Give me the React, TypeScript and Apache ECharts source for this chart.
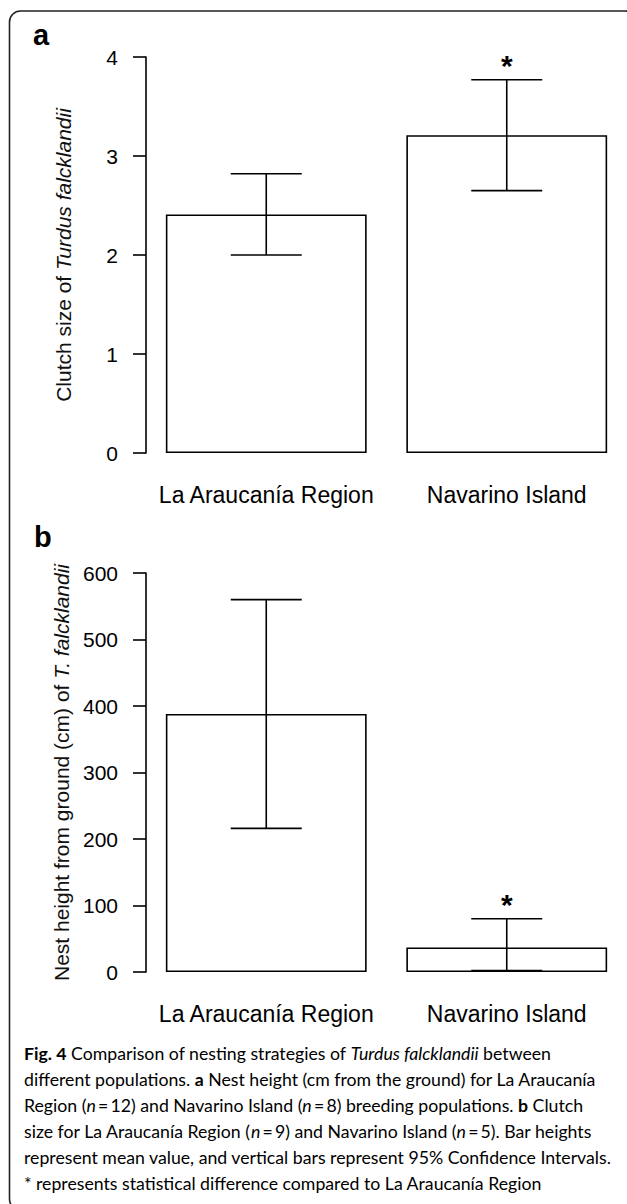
import React, { useEffect, useRef } from "react";
import * as echarts from "echarts";

const categories = ["La Araucanía Region", "Navarino Island"];

// Panel a: clutch size
const clutchMean = [2.41, 3.21];
const clutchLow = [2.0, 2.65];
const clutchHigh = [2.82, 3.77];
const clutchAxis = { min: 0, max: 4, interval: 1 };

// Panel b: nest height (cm)
const nestMean = [388, 37];
const nestLow = [216, 2];
const nestHigh = [560, 80];
const nestAxis = { min: 0, max: 600, interval: 100 };

const significant = [0, 1];

const captionLines = [
  "{b|Fig. 4} Comparison of nesting strategies of {i|Turdus falcklandii} between",
  "different populations. {b|a} Nest height (cm from the ground) for La Araucanía",
  "Region ({i|n}\u2009=\u200912) and Navarino Island ({i|n}\u2009=\u20098) breeding populations. {b|b} Clutch",
  "size for La Araucanía Region ({i|n}\u2009=\u20099) and Navarino Island ({i|n}\u2009=\u20095). Bar heights",
  "represent mean value, and vertical bars represent 95% Confidence Intervals.",
  "* represents statistical difference compared to La Araucanía Region",
];

const FONT = "'Liberation Sans', Arial, Helvetica, sans-serif";
const CAP_FONT = "Lato, 'Open Sans', sans-serif";

function errorData(low: number[], high: number[]) {
  return categories.map((_, i) => [i, low[i], high[i], significant[i]]);
}

function renderError(params: any, api: any) {
  const x = api.value(0);
  const lo = api.value(1);
  const hi = api.value(2);
  const sig = api.value(3);
  const pLo = api.coord([x, lo]);
  const pHi = api.coord([x, hi]);
  const half = api.size([1, 0])[0] * 0.1476;
  const ls = { stroke: "#000", lineWidth: 1.6 };
  const children: any[] = [
    { type: "line", shape: { x1: pLo[0], y1: pLo[1], x2: pHi[0], y2: pHi[1] }, style: ls },
    { type: "line", shape: { x1: pLo[0] - half, y1: pLo[1], x2: pLo[0] + half, y2: pLo[1] }, style: ls },
    { type: "line", shape: { x1: pHi[0] - half, y1: pHi[1], x2: pHi[0] + half, y2: pHi[1] }, style: ls },
  ];
  if (sig) {
    children.push({
      type: "text",
      x: pHi[0],
      y: pHi[1] - 14,
      style: {
        text: "*",
        fontSize: 30,
        fontWeight: "bold",
        fontFamily: FONT,
        align: "center",
        verticalAlign: "middle",
        fill: "#000",
      },
    });
  }
  return { type: "group", children };
}

function yAxisCfg(gridIndex: number, ax: any, name: string) {
  return {
    type: "value",
    gridIndex,
    min: ax.min,
    max: ax.max,
    interval: ax.interval,
    name,
    nameLocation: "middle",
    nameGap: 72,
    nameTextStyle: {
      fontSize: 21,
      fontFamily: FONT,
      color: "#111",
      rich: { i: { fontSize: 21, fontFamily: FONT, fontStyle: "italic", color: "#111" } },
    },
    axisLine: { show: true, lineStyle: { color: "#000", width: 1.6 } },
    axisTick: { show: true, inside: false, length: 13, lineStyle: { color: "#000", width: 1.6 } },
    axisLabel: { fontSize: 21, fontFamily: FONT, color: "#000", margin: 28 },
    splitLine: { show: false },
  };
}

function xAxisCfg(gridIndex: number) {
  return {
    type: "category",
    gridIndex,
    data: categories,
    axisLine: { show: false },
    axisTick: { show: false },
    axisLabel: { fontSize: 23, fontFamily: FONT, color: "#000", margin: 30, interval: 0, hideOverlap: false },
  };
}

function barSeries(idx: number, data: number[]) {
  return {
    type: "bar",
    xAxisIndex: idx,
    yAxisIndex: idx,
    data,
    barWidth: "83.5%",
    itemStyle: { color: "#fff", borderColor: "#000", borderWidth: 1.6 },
    z: 2,
  };
}

export default function App() {
  const ref = useRef<HTMLDivElement>(null);
  useEffect(() => {
    if (!ref.current) return;
    const chart = echarts.init(ref.current, undefined, { renderer: "svg" });

    // Size the caption font so that the longest line spans the caption width
    let capSize = 18;
    try {
      const ctx = document.createElement("canvas").getContext("2d");
      if (ctx) {
        ctx.font = `100px ${CAP_FONT}`;
        const w = ctx.measureText(captionLines[4]).width;
        if (w > 0) capSize = Math.max(14, Math.min(22, (100 * 588) / w));
      }
    } catch (e) {}

    const capRich = {
      b: { fontWeight: "bold", fontSize: capSize, fontFamily: CAP_FONT, fill: "#000" },
      i: { fontStyle: "italic", fontSize: capSize, fontFamily: CAP_FONT, fill: "#000" },
    };

    const captionGraphics = captionLines.map((t, k) => ({
      type: "text",
      x: 24,
      y: 1053 + k * 26,
      style: {
        text: t,
        fontSize: capSize,
        fontFamily: CAP_FONT,
        fill: "#000",
        verticalAlign: "middle",
        align: "left",
        rich: capRich,
      },
    }));

    chart.setOption({
      animation: false,
      backgroundColor: "#fff",
      grid: [
        { left: 146, right: 0, top: 57, height: 396 },
        { left: 146, right: 0, top: 573, height: 399 },
      ],
      xAxis: [xAxisCfg(0), xAxisCfg(1)],
      yAxis: [
        yAxisCfg(0, clutchAxis, "Clutch size of {i|Turdus falcklandii}"),
        yAxisCfg(1, nestAxis, "Nest height from ground (cm) of {i|T. falcklandii}"),
      ],
      series: [
        barSeries(0, clutchMean),
        {
          type: "custom",
          xAxisIndex: 0,
          yAxisIndex: 0,
          data: errorData(clutchLow, clutchHigh),
          renderItem: renderError,
          z: 3,
        },
        barSeries(1, nestMean),
        {
          type: "custom",
          xAxisIndex: 1,
          yAxisIndex: 1,
          data: errorData(nestLow, nestHigh),
          renderItem: renderError,
          z: 3,
        },
      ],
      graphic: [
        {
          type: "rect",
          shape: { x: 9.5, y: 11, width: 626.5, height: 1199, r: 11 },
          style: { fill: "none", stroke: "#222", lineWidth: 1.6 },
          z: 10,
        },
        {
          type: "text",
          x: 33,
          y: 35,
          style: { text: "a", fontSize: 29, fontWeight: "bold", fontFamily: FONT, fill: "#000", verticalAlign: "middle" },
        },
        {
          type: "text",
          x: 34,
          y: 537,
          style: { text: "b", fontSize: 29, fontWeight: "bold", fontFamily: FONT, fill: "#000", verticalAlign: "middle" },
        },
        ...captionGraphics,
      ],
    });
    return () => chart.dispose();
  }, []);

  return (
    <div
      ref={ref}
      style={{ position: "absolute", left: 0, top: 0, width: 627, height: 1204, background: "#fff" }}
    />
  );
}
